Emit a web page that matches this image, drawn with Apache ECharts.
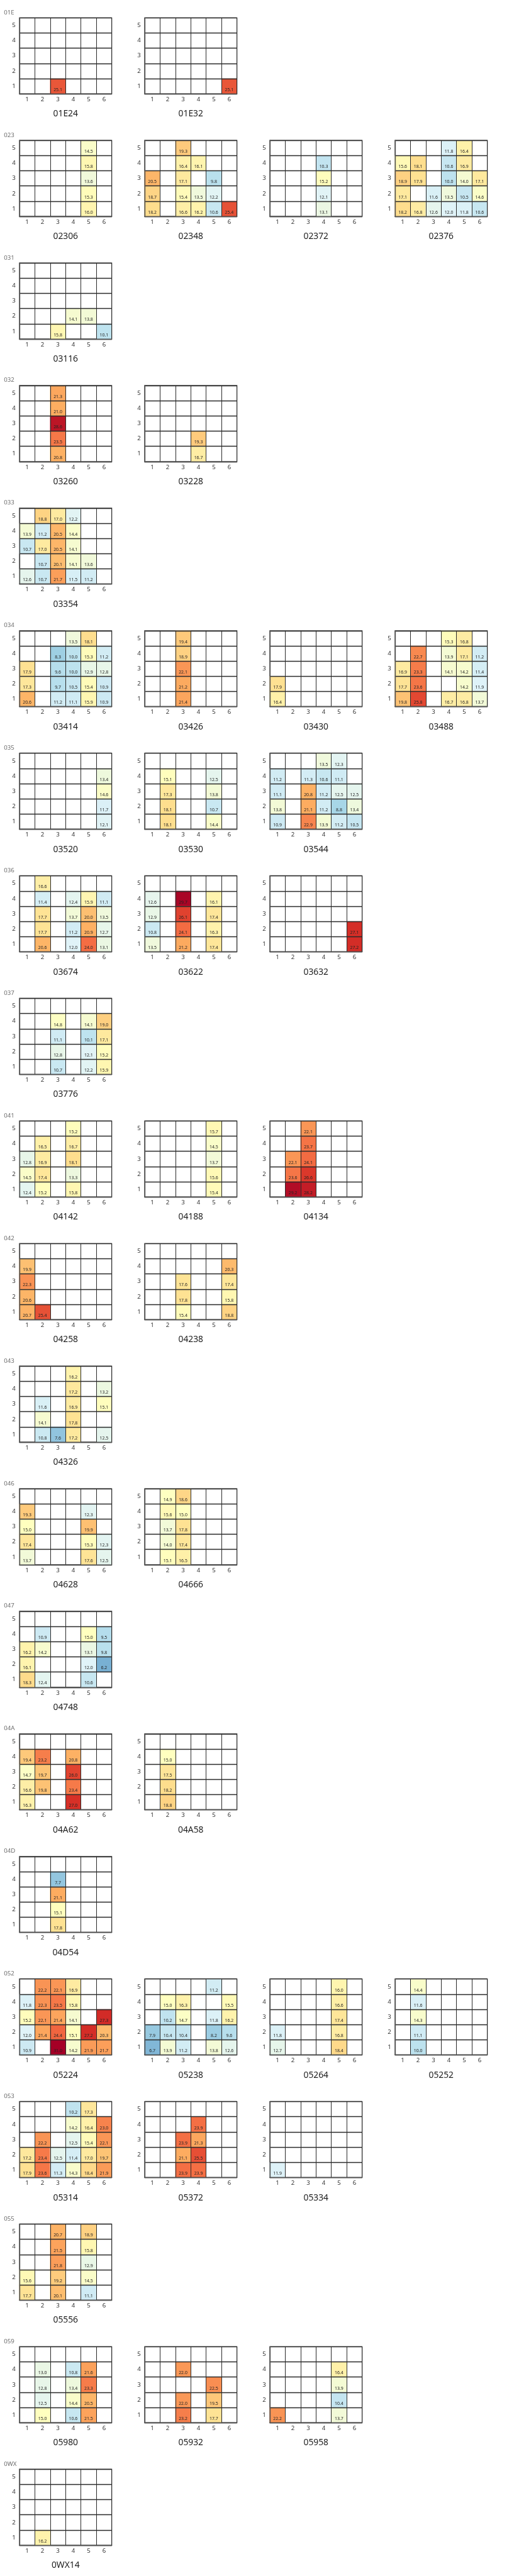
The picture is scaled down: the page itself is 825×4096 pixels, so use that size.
<!DOCTYPE html>
<html>
<head>
<meta charset="utf-8">
<script src="https://cdn.jsdelivr.net/npm/echarts@6/dist/echarts.min.js"></script>
<style>
html,body{margin:0;padding:0;background:#fff;}
#chart{width:825px;height:4096px;}
</style>
</head>
<body>
<div id="chart"></div>
<script>
const _ = null;
// tick labels
const xTicks = ['1','2','3','4','5','6'];
const yTicks = ['1','2','3','4','5'];

// section headings and the plots in each section (left to right)
const sectionLabels = ['01E','023','031','032','033','034','035','036','037','041','042','043','046','047','04A','04D','052','053','055','059','0WX'];
const sectionPlots = [
  ['01E24','01E32'],
  ['02306','02348','02372','02376'],
  ['03116'],
  ['03260','03228'],
  ['03354'],
  ['03414','03426','03430','03488'],
  ['03520','03530','03544'],
  ['03674','03622','03632'],
  ['03776'],
  ['04142','04188','04134'],
  ['04258','04238'],
  ['04326'],
  ['04628','04666'],
  ['04748'],
  ['04A62','04A58'],
  ['04D54'],
  ['05224','05238','05264','05252'],
  ['05314','05372','05334'],
  ['05556'],
  ['05980','05932','05958'],
  ['0WX14']
];

// values: rows are y = 5,4,3,2,1 (top to bottom); columns x = 1..6
const p01E24 = [[_,_,_,_,_,_],[_,_,_,_,_,_],[_,_,_,_,_,_],[_,_,_,_,_,_],[_,_,25.1,_,_,_]];
const p01E32 = [[_,_,_,_,_,_],[_,_,_,_,_,_],[_,_,_,_,_,_],[_,_,_,_,_,_],[_,_,_,_,_,25.1]];
const p02306 = [[_,_,_,_,14.5,_],[_,_,_,_,15.8,_],[_,_,_,_,13.6,_],[_,_,_,_,15.3,_],[_,_,_,_,16.0,_]];
const p02348 = [[_,_,19.3,_,_,_],[_,_,16.4,16.1,_,_],[20.5,_,17.1,_,9.8,_],[18.7,_,15.4,13.5,12.2,_],[18.2,_,16.6,16.2,10.6,25.4]];
const p02372 = [[_,_,_,_,_,_],[_,_,_,10.3,_,_],[_,_,_,15.2,_,_],[_,_,_,12.1,_,_],[_,_,_,13.1,_,_]];
const p02376 = [[_,_,_,11.8,16.4,_],[15.6,18.1,_,10.6,16.9,_],[18.9,17.9,_,10.0,14.0,17.1],[17.1,_,11.6,13.5,10.5,14.6],[18.2,16.8,12.6,12.0,11.8,10.6]];
const p03116 = [[_,_,_,_,_,_],[_,_,_,_,_,_],[_,_,_,_,_,_],[_,_,_,14.1,13.8,_],[_,_,15.8,_,_,10.1]];
const p03260 = [[_,_,21.3,_,_,_],[_,_,21.0,_,_,_],[_,_,28.6,_,_,_],[_,_,23.5,_,_,_],[_,_,20.8,_,_,_]];
const p03228 = [[_,_,_,_,_,_],[_,_,_,_,_,_],[_,_,_,_,_,_],[_,_,_,19.3,_,_],[_,_,_,16.7,_,_]];
const p03354 = [[_,18.8,17.0,12.2,_,_],[13.9,11.2,20.5,14.4,_,_],[10.7,17.0,20.5,14.1,_,_],[_,10.7,20.1,14.1,13.6,_],[12.6,10.7,21.7,11.5,11.2,_]];
const p03414 = [[_,_,_,13.5,18.1,_],[_,_,8.3,10.0,15.3,11.2],[17.9,_,9.6,10.0,12.9,12.8],[17.3,_,9.7,10.5,15.4,10.9],[20.6,_,11.2,11.1,15.9,10.9]];
const p03426 = [[_,_,19.4,_,_,_],[_,_,18.9,_,_,_],[_,_,22.1,_,_,_],[_,_,21.2,_,_,_],[_,_,21.4,_,_,_]];
const p03430 = [[_,_,_,_,_,_],[_,_,_,_,_,_],[_,_,_,_,_,_],[17.9,_,_,_,_,_],[16.4,_,_,_,_,_]];
const p03488 = [[_,_,_,15.3,16.8,_],[_,22.7,_,13.9,17.1,11.2],[16.9,23.3,_,14.1,14.2,11.4],[17.7,23.6,_,_,14.2,11.9],[19.8,25.8,_,16.7,16.8,13.7]];
const p03520 = [[_,_,_,_,_,_],[_,_,_,_,_,13.4],[_,_,_,_,_,14.6],[_,_,_,_,_,11.7],[_,_,_,_,_,12.1]];
const p03530 = [[_,_,_,_,_,_],[_,15.1,_,_,12.5,_],[_,17.3,_,_,13.8,_],[_,18.1,_,_,10.7,_],[_,18.1,_,_,14.4,_]];
const p03544 = [[_,_,_,13.5,12.3,_],[11.2,_,11.3,10.6,11.1,_],[11.1,_,20.8,11.2,12.5,12.5],[13.8,_,21.1,11.2,8.8,13.4],[10.9,_,22.9,13.9,11.2,10.5]];
const p03674 = [[_,16.6,_,_,_,_],[_,11.4,_,12.4,15.9,11.1],[_,17.7,_,13.7,20.0,13.5],[_,17.7,_,11.2,20.9,12.7],[_,20.6,_,12.0,24.0,13.1]];
const p03622 = [[_,_,_,_,_,_],[12.6,_,29.7,_,16.1,_],[12.9,_,26.1,_,17.4,_],[10.8,_,24.1,_,16.3,_],[13.5,_,21.2,_,17.4,_]];
const p03632 = [[_,_,_,_,_,_],[_,_,_,_,_,_],[_,_,_,_,_,_],[_,_,_,_,_,27.1],[_,_,_,_,_,27.2]];
const p03776 = [[_,_,_,_,_,_],[_,_,14.8,_,14.1,19.0],[_,_,11.1,_,10.1,17.1],[_,_,12.8,_,12.1,15.2],[_,_,10.7,_,12.2,15.9]];
const p04142 = [[_,_,_,15.2,_,_],[_,16.5,_,16.7,_,_],[12.8,16.9,_,18.1,_,_],[14.5,17.4,_,13.3,_,_],[12.4,15.2,_,15.8,_,_]];
const p04188 = [[_,_,_,_,15.7,_],[_,_,_,_,14.5,_],[_,_,_,_,13.7,_],[_,_,_,_,15.6,_],[_,_,_,_,15.4,_]];
const p04134 = [[_,_,22.1,_,_,_],[_,_,23.7,_,_,_],[_,22.1,24.1,_,_,_],[_,23.6,26.6,_,_,_],[_,29.2,28.2,_,_,_]];
const p04258 = [[_,_,_,_,_,_],[19.9,_,_,_,_,_],[22.3,_,_,_,_,_],[20.6,_,_,_,_,_],[20.7,25.4,_,_,_,_]];
const p04238 = [[_,_,_,_,_,_],[_,_,_,_,_,20.3],[_,_,17.6,_,_,17.4],[_,_,17.8,_,_,15.8],[_,_,15.4,_,_,18.8]];
const p04326 = [[_,_,_,16.2,_,_],[_,_,_,17.2,_,13.2],[_,11.6,_,16.9,_,15.1],[_,14.1,_,17.8,_,_],[_,10.8,7.6,17.2,_,12.5]];
const p04628 = [[_,_,_,_,_,_],[19.3,_,_,_,12.3,_],[15.0,_,_,_,19.9,_],[17.4,_,_,_,15.3,12.3],[13.7,_,_,_,17.6,12.5]];
const p04666 = [[_,14.9,18.6,_,_,_],[_,15.6,15.0,_,_,_],[_,13.7,17.8,_,_,_],[_,14.0,17.4,_,_,_],[_,15.1,16.5,_,_,_]];
const p04748 = [[_,_,_,_,_,_],[_,10.9,_,_,15.0,9.5],[16.2,14.2,_,_,13.1,9.8],[16.1,_,_,_,12.0,6.2],[18.3,12.4,_,_,10.6,_]];
const p04A62 = [[_,_,_,_,_,_],[19.4,23.2,_,20.8,_,_],[14.7,19.7,_,26.0,_,_],[16.6,19.8,_,23.4,_,_],[16.3,_,_,27.0,_,_]];
const p04A58 = [[_,_,_,_,_,_],[_,15.0,_,_,_,_],[_,17.5,_,_,_,_],[_,18.2,_,_,_,_],[_,18.8,_,_,_,_]];
const p04D54 = [[_,_,_,_,_,_],[_,_,7.7,_,_,_],[_,_,21.1,_,_,_],[_,_,15.1,_,_,_],[_,_,17.8,_,_,_]];
const p05224 = [[_,22.2,22.1,16.9,_,_],[11.8,22.3,23.5,15.8,_,_],[15.2,22.1,21.4,14.1,_,27.3],[12.0,21.4,24.4,15.1,27.2,20.3],[10.9,_,31.0,14.2,21.9,21.7]];
const p05238 = [[_,_,_,_,11.2,_],[_,15.0,16.3,_,_,15.5],[_,10.2,14.7,_,11.8,16.2],[7.9,10.4,10.4,_,8.2,9.6],[6.7,13.9,11.2,_,13.8,12.6]];
const p05264 = [[_,_,_,_,16.0,_],[_,_,_,_,16.6,_],[_,_,_,_,17.4,_],[11.8,_,_,_,16.8,_],[12.7,_,_,_,18.4,_]];
const p05252 = [[_,14.4,_,_,_,_],[_,11.6,_,_,_,_],[_,14.3,_,_,_,_],[_,11.1,_,_,_,_],[_,10.0,_,_,_,_]];
const p05314 = [[_,_,_,10.2,17.3,_],[_,_,_,14.2,16.4,23.0],[_,22.2,_,12.5,15.4,22.1],[17.2,23.4,12.5,11.4,17.0,19.7],[17.9,23.6,11.3,14.3,18.4,21.9]];
const p05372 = [[_,_,_,_,_,_],[_,_,_,23.9,_,_],[_,_,23.9,21.3,_,_],[_,_,21.1,25.5,_,_],[_,_,23.9,23.9,_,_]];
const p05334 = [[_,_,_,_,_,_],[_,_,_,_,_,_],[_,_,_,_,_,_],[_,_,_,_,_,_],[11.9,_,_,_,_,_]];
const p05556 = [[_,_,20.7,_,18.9,_],[_,_,21.5,_,15.8,_],[_,_,21.8,_,12.9,_],[15.6,_,19.2,_,14.5,_],[17.7,_,20.1,_,11.1,_]];
const p05980 = [[_,_,_,_,_,_],[_,13.0,_,10.8,21.6,_],[_,12.8,_,13.4,23.3,_],[_,12.5,_,14.4,20.5,_],[_,15.0,_,10.6,21.5,_]];
const p05932 = [[_,_,_,_,_,_],[_,_,22.0,_,_,_],[_,_,_,_,22.5,_],[_,_,22.0,_,19.5,_],[_,_,23.2,_,17.7,_]];
const p05958 = [[_,_,_,_,_,_],[_,_,_,_,16.4,_],[_,_,_,_,13.9,_],[_,_,_,_,10.4,_],[22.2,_,_,_,13.7,_]];
const p0WX14 = [[_,_,_,_,_,_],[_,_,_,_,_,_],[_,_,_,_,_,_],[_,_,_,_,_,_],[_,16.2,_,_,_,_]];

const plotValues = {
  '01E24':p01E24,'01E32':p01E32,'02306':p02306,'02348':p02348,'02372':p02372,'02376':p02376,
  '03116':p03116,'03260':p03260,'03228':p03228,'03354':p03354,'03414':p03414,'03426':p03426,
  '03430':p03430,'03488':p03488,'03520':p03520,'03530':p03530,'03544':p03544,'03674':p03674,
  '03622':p03622,'03632':p03632,'03776':p03776,'04142':p04142,'04188':p04188,'04134':p04134,
  '04258':p04258,'04238':p04238,'04326':p04326,'04628':p04628,'04666':p04666,'04748':p04748,
  '04A62':p04A62,'04A58':p04A58,'04D54':p04D54,'05224':p05224,'05238':p05238,'05264':p05264,
  '05252':p05252,'05314':p05314,'05372':p05372,'05334':p05334,'05556':p05556,'05980':p05980,
  '05932':p05932,'05958':p05958,'0WX14':p0WX14
};

const FONT = '"Noto Sans", "Open Sans", sans-serif';
const S = 0.691;
const colLeft0 = 44.6 * S, colPitch = 288 * S, gw = 212.5 * S;
const rowTop0 = 41 * S, rowPitch = 282.05 * S, gh = 174.8 * S;

const grids = [], xAxes = [], yAxes = [], series = [], graphics = [];
let gi = 0;
sectionLabels.forEach((lab, k) => {
  const top = rowTop0 + rowPitch * k;
  graphics.push({type:'text', x: 9 * S, y: top - 12 * S, silent:true,
    style:{text: lab, fill:'#6e6e6e', font: `${14*S}px ${FONT}`, textAlign:'left', textVerticalAlign:'middle'}});
  sectionPlots[k].forEach((name, j) => {
    const left = colLeft0 + colPitch * j;
    grids.push({left: left, top: top, width: gw, height: gh, show: true, borderColor: '#555', borderWidth: 1.3, backgroundColor: '#fff'});
    xAxes.push({type:'category', gridIndex: gi, data: xTicks, z: 5,
      axisTick:{show:false},
      axisLine:{show:true, lineStyle:{color:'#555', width:1.3}},
      axisLabel:{interval:0, margin: 4, fontSize: 14*S, color:'#333', fontFamily: FONT},
      splitLine:{show:true, interval:0, lineStyle:{color:'#2a2a2a', width:1}}});
    yAxes.push({type:'category', gridIndex: gi, data: yTicks, z: 5,
      axisTick:{show:false},
      axisLine:{show:true, lineStyle:{color:'#555', width:1.3}},
      axisLabel:{interval:0, margin: 6, fontSize: 14*S, color:'#333', fontFamily: FONT},
      splitLine:{show:true, interval:0, lineStyle:{color:'#2a2a2a', width:1.4}}});
    const mat = plotValues[name];
    const data = [];
    mat.forEach((row, r) => row.forEach((v, c) => { if (v !== null) data.push([c, 4 - r, v]); }));
    series.push({type:'heatmap', xAxisIndex: gi, yAxisIndex: gi, data: data,
      label:{show:true, position:'insideBottom', distance: 3, fontSize: 10*S, color:'#222', fontFamily: FONT,
        formatter: p => p.value[2].toFixed(1)},
      emphasis:{disabled:true}});
    graphics.push({type:'text', x: left + gw/2, y: top + gh + 46.7*S, silent:true,
      style:{text: name, fill:'#222', font: `${20*S}px ${FONT}`, textAlign:'center', textVerticalAlign:'middle'}});
    gi++;
  });
});

const chart = echarts.init(document.getElementById('chart'), null, {renderer:'canvas'});
chart.setOption({
  animation: false,
  backgroundColor: '#fff',
  grid: grids, xAxis: xAxes, yAxis: yAxes,
  visualMap: {type:'continuous', min: 0, max: 30, dimension: 2, show: false, calculable: false,
    inRange:{color:['#313695','#4575b4','#74add1','#abd9e9','#e0f3f8','#ffffbf','#fee090','#fdae61','#f46d43','#d73027','#a50026']}},
  series: series,
  graphic: graphics
});
</script>
</body>
</html>
